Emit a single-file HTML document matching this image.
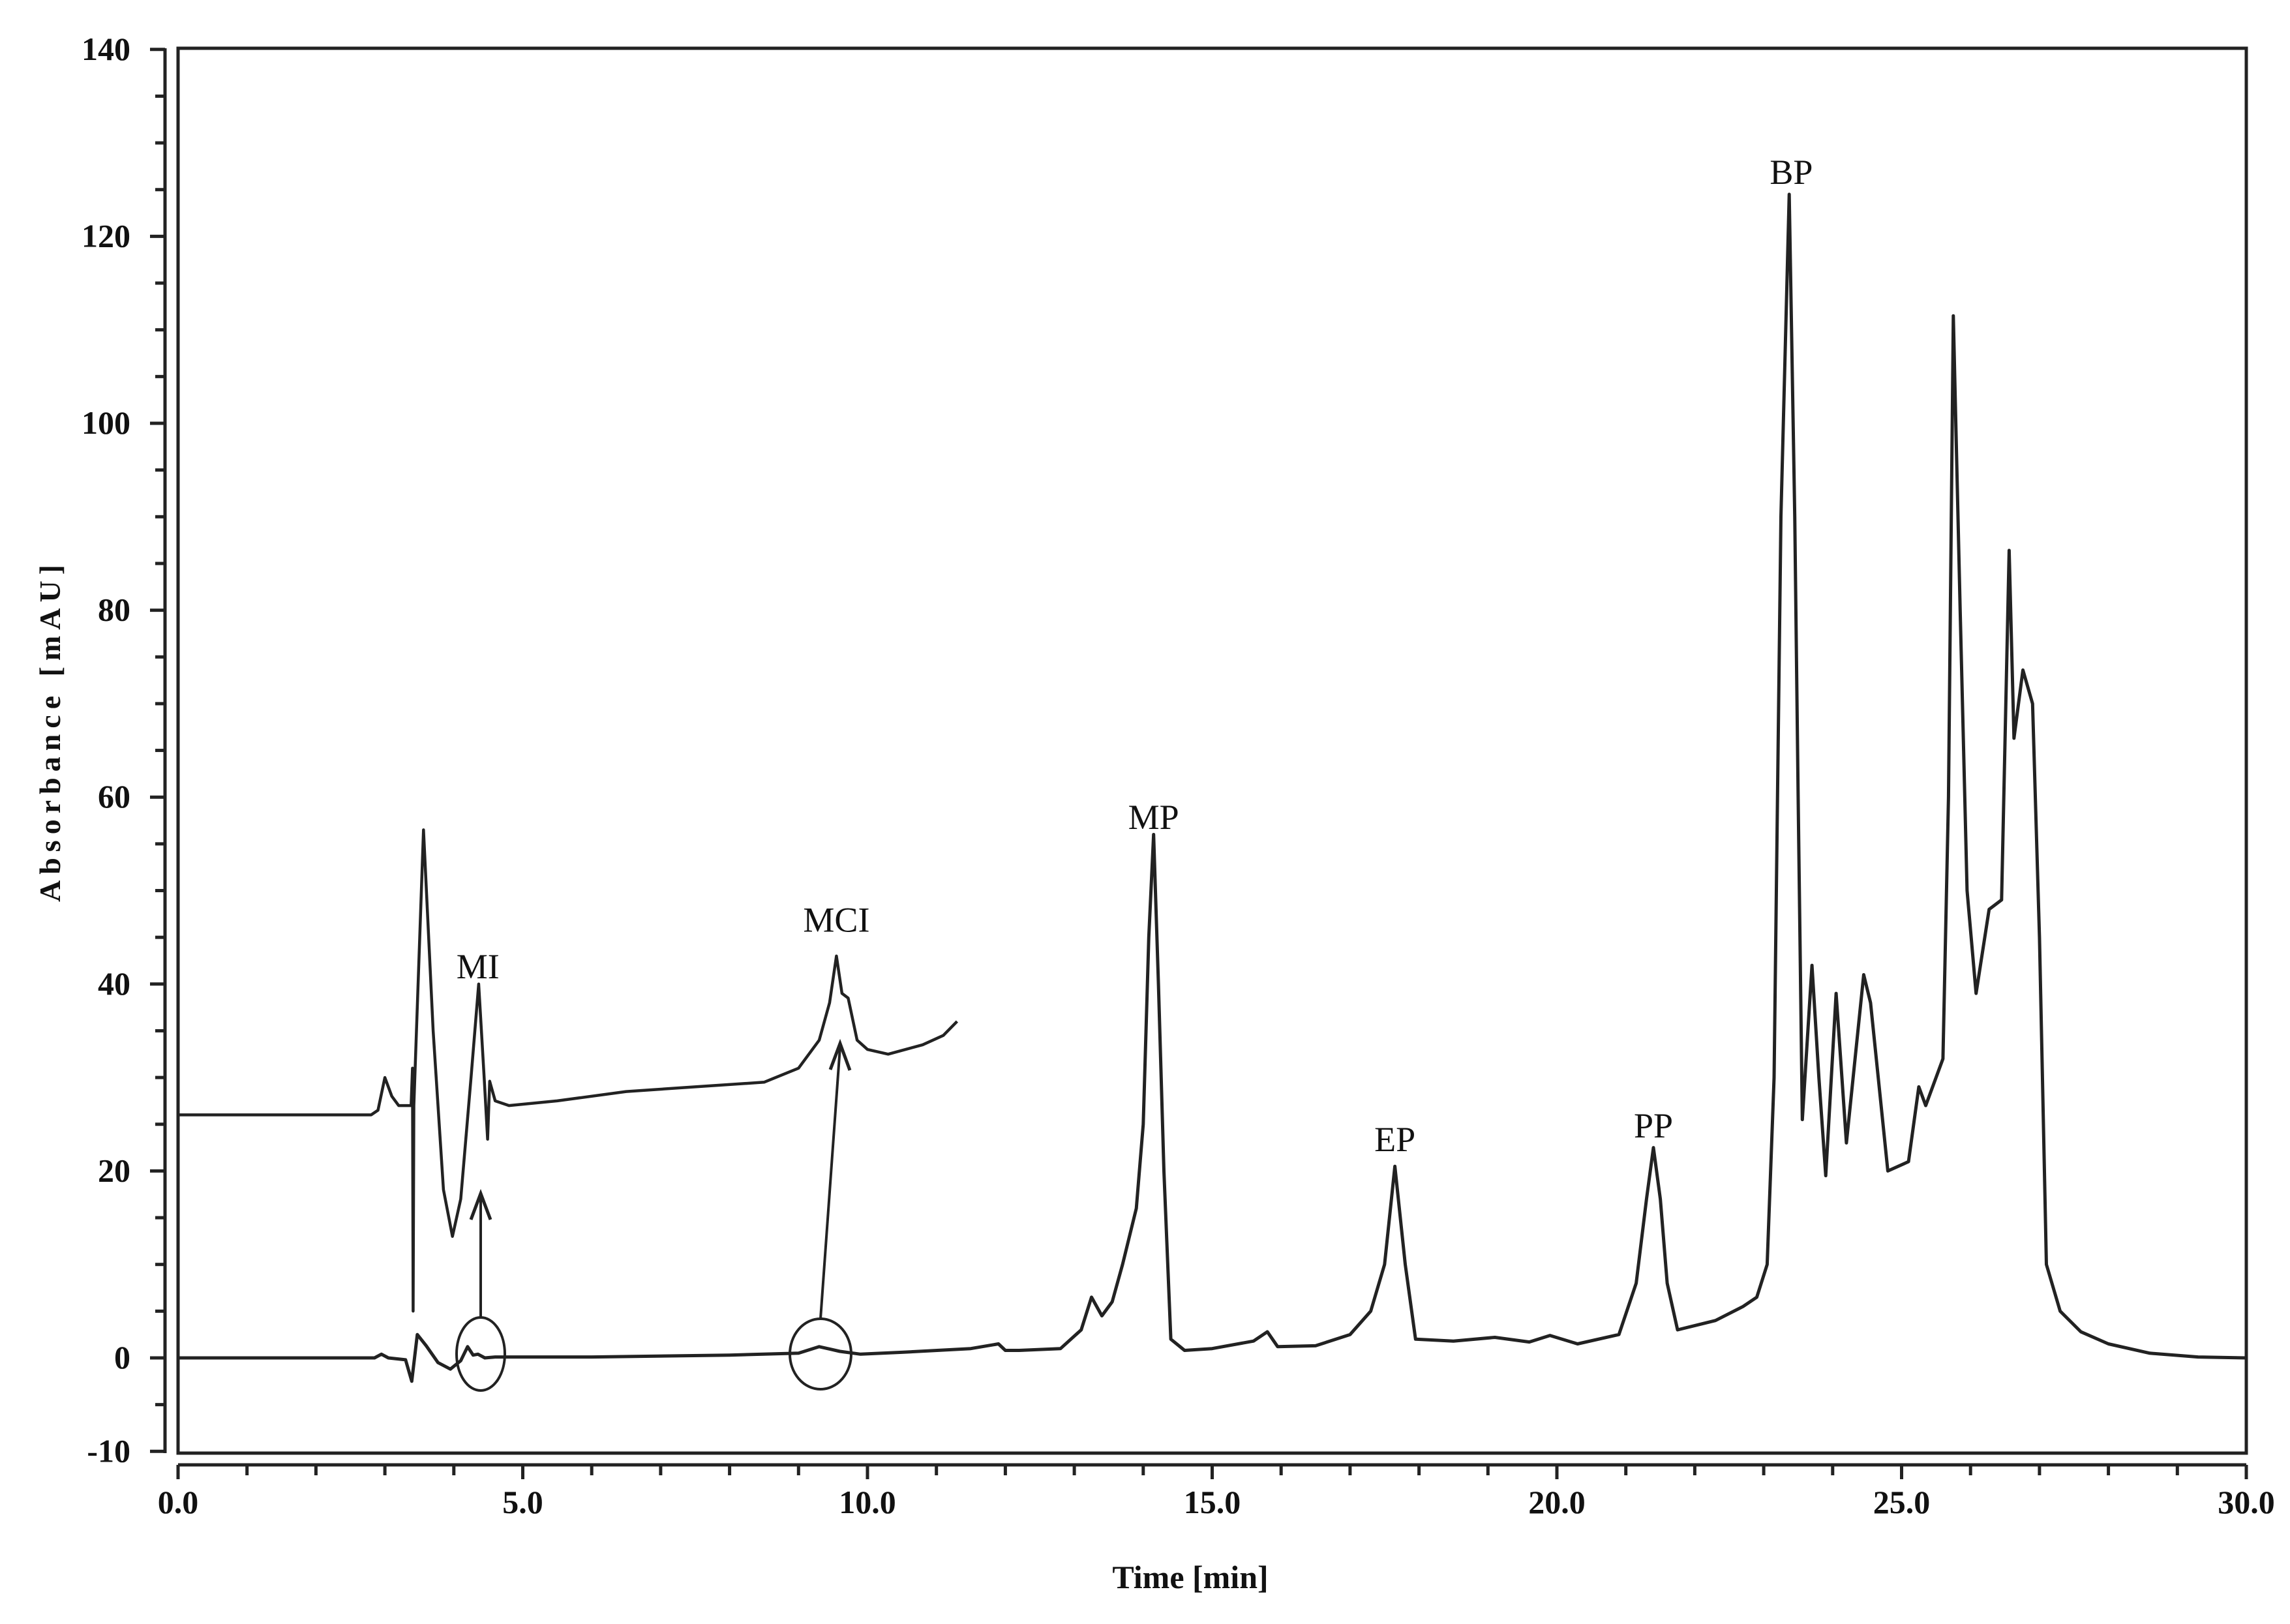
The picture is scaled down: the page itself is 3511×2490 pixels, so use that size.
<!DOCTYPE html>
<html><head><meta charset="utf-8"><style>
html,body{margin:0;padding:0;background:#fff;}
svg{display:block;}
text{font-family:"Liberation Serif",serif;fill:#111;}
</style></head><body>
<svg id="chart" width="3511" height="2490" viewBox="0 0 3511 2490" xmlns="http://www.w3.org/2000/svg">
<rect x="0" y="0" width="3511" height="2490" fill="#fff"/>
<rect x="273" y="74" width="3171" height="2154" fill="none" stroke="#222" stroke-width="5"/>
<g id="axes"></g>
<g id="series"></g>
<g id="annot"></g>
<text x="0" y="0" transform="translate(92,1120) rotate(-90)" text-anchor="middle" font-weight="bold" font-size="46" letter-spacing="9">Absorbance [mAU]</text>
<text x="1825" y="2435" text-anchor="middle" font-weight="bold" font-size="50">Time [min]</text>
</svg>
<script>
const yTicks = [140,120,100,80,60,40,20,0,-10];
const xTicks = [0,5,10,15,20,25,30];
const xTickLabels = ["0.0","5.0","10.0","15.0","20.0","25.0","30.0"];
const mainT = [0,2.85,2.95,3.05,3.3,3.39,3.47,3.6,3.77,3.95,4.1,4.2,4.28,4.35,4.45,4.6,6,8,9.0,9.3,9.6,9.9,10.5,11.5,11.9,12.0,12.2,12.8,13.1,13.25,13.4,13.55,13.7,13.9,14.0,14.08,14.15,14.22,14.3,14.4,14.6,15.0,15.6,15.8,15.95,16.5,17.0,17.3,17.5,17.65,17.8,17.95,18.5,19.1,19.6,19.9,20.3,20.9,21.15,21.3,21.4,21.5,21.6,21.75,22.3,22.7,22.9,23.05,23.15,23.25,23.37,23.45,23.5,23.56,23.7,23.8,23.9,24.05,24.2,24.45,24.55,24.8,25.1,25.25,25.35,25.6,25.68,25.75,25.85,25.95,26.08,26.27,26.45,26.56,26.63,26.76,26.9,27.0,27.1,27.3,27.6,28.0,28.6,29.3,30];
const mainV = [0,0,0.4,0,-0.2,-2.5,2.5,1.3,-0.5,-1.2,-0.3,1.2,0.3,0.4,0,0.1,0.1,0.3,0.5,1.2,0.7,0.4,0.6,1.0,1.5,0.8,0.8,1.0,3,6.5,4.5,6,10,16,25,45,56,40,20,2,0.8,1,1.8,2.8,1.2,1.3,2.5,5,10,20.5,10,2,1.8,2.2,1.7,2.4,1.5,2.5,8,17,22.5,17,8,3,4,5.5,6.5,10,30,90,124.5,90,60,25.5,42,30,19.5,39,23,41,38,20,21,29,27,32,60,111.5,80,50,39,48,49,86.4,66.3,73.6,70,45,10,5,2.8,1.5,0.5,0.1,0];
const insetT = [0,2.8,2.9,3.0,3.1,3.2,3.38,3.40,3.41,3.42,3.56,3.7,3.85,3.98,4.1,4.25,4.36,4.44,4.49,4.52,4.6,4.8,5.5,6.5,7.5,8.5,9.0,9.3,9.45,9.55,9.63,9.72,9.85,10.0,10.3,10.8,11.1,11.3];
const insetV = [26,26,26.5,30,28,27,27,31,5,27,56.5,35,18,13,17,30,40,30,23.4,29.6,27.5,27,27.5,28.5,29,29.5,31,34,38,43,39,38.5,34,33,32.5,33.5,34.5,36];
const peakNames = ["MI","MCI","MP","EP","PP","BP"];
const peakT = [4.35,9.55,14.15,17.65,21.4,23.4];
const peakLabelV = [42,47,58,23.5,25,127];

const X0=273, X1=3444, Y0=2082, PX=14.33;
const xs = t => X0 + (X1-X0)*t/30;
const ys = v => Y0 - v*PX;
const NS="http://www.w3.org/2000/svg";
function mk(tag, attrs, parent){const e=document.createElementNS(NS,tag);for(const k in attrs)e.setAttribute(k,attrs[k]);parent.appendChild(e);return e;}
const axes=document.getElementById('axes');
const yl=mk('line',{x1:253,y1:74,x2:253,y2:2228,stroke:'#222','stroke-width':5},axes);


for(let v=-10;v<=140;v+=5){
  const major=yTicks.includes(v);
  const t=mk('line',{x1:253,x2:major?230:238,y1:ys(v),y2:ys(v),stroke:'#222','stroke-width':5},axes);
  
  
}
yTicks.forEach(v=>{
  const t=mk('text',{x:200,y:ys(v)+16,'text-anchor':'end','font-size':50,'font-weight':'bold'},axes);
  t.textContent=String(v);
  
  
});
const xl=mk('line',{x1:273,y1:2246,x2:3444,y2:2246,stroke:'#222','stroke-width':5},axes);


for(let t=0;t<=30;t++){
  const major=(t%5===0);
  const l=mk('line',{x1:xs(t),x2:xs(t),y1:2246,y2:major?2268:2262,stroke:'#222','stroke-width':5},axes);
  
  
}
xTicks.forEach((t,i)=>{
  const l=mk('text',{x:xs(t),y:2320,'text-anchor':'middle','font-size':50,'font-weight':'bold'},axes);
  l.textContent=xTickLabels[i];
  
  
});
const ser=document.getElementById('series');
function pathOf(T,V){return T.map((t,i)=>(i?'L':'M')+xs(t).toFixed(1)+' '+ys(V[i]).toFixed(1)).join(' ');}
const p1=mk('path',{d:pathOf(mainT,mainV),fill:'none',stroke:'#222','stroke-width':5,'stroke-linejoin':'round'},ser);


const p2=mk('path',{d:pathOf(insetT,insetV),fill:'none',stroke:'#222','stroke-width':4.5,'stroke-linejoin':'round'},ser);


const an=document.getElementById('annot');
peakNames.forEach((n,i)=>{
  const t=mk('text',{x:xs(peakT[i]),y:ys(peakLabelV[i])+20,'text-anchor':'middle','font-size':54},an);
  t.textContent=n;
  
  
});
const c1=mk('ellipse',{cx:737,cy:2076,rx:37,ry:56,fill:'none',stroke:'#222','stroke-width':4},an);


const c2=mk('ellipse',{cx:1258,cy:2076,rx:47,ry:54,fill:'none',stroke:'#222','stroke-width':4},an);


const a1=mk('line',{x1:737,y1:2020,x2:737,y2:1835,stroke:'#222','stroke-width':4},an);


const h1=mk('path',{d:'M722 1870 L737 1830 L752 1870',fill:'none',stroke:'#222','stroke-width':5},an);


const a2=mk('line',{x1:1258,y1:2022,x2:1288,y2:1605,stroke:'#222','stroke-width':4},an);


const h2=mk('path',{d:'M1273 1640 L1288 1600 L1303 1641',fill:'none',stroke:'#222','stroke-width':5},an);


</script>
</body></html>
